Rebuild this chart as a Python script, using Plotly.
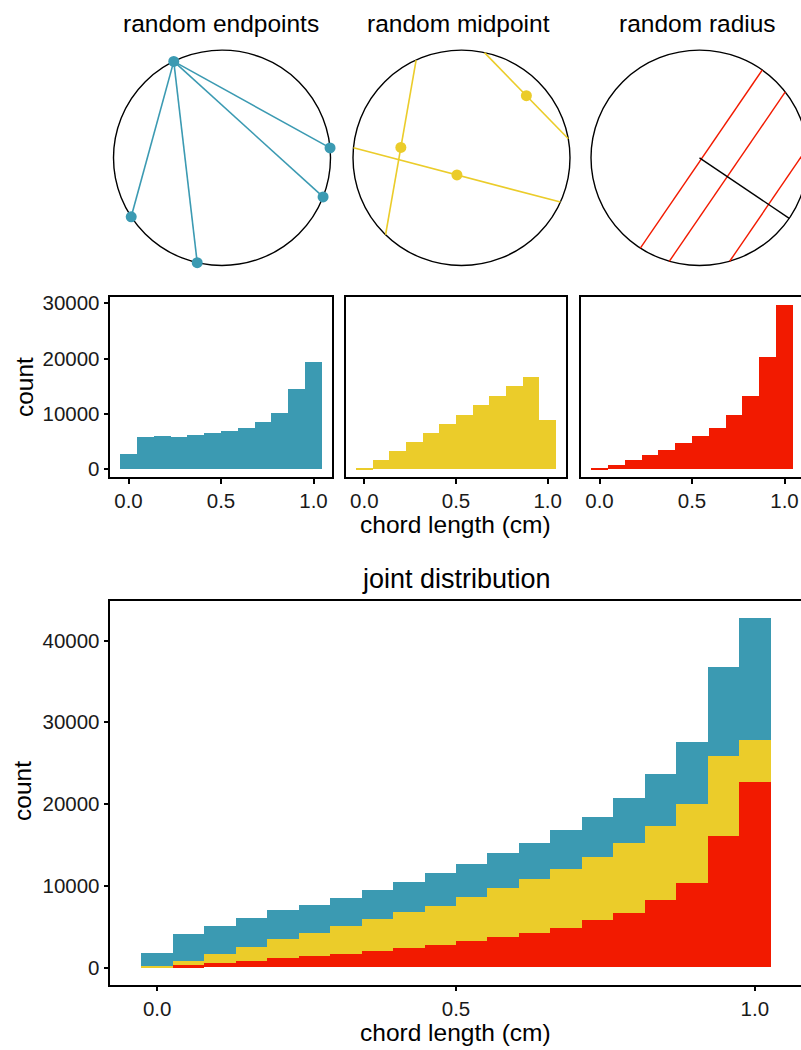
import math
import plotly.graph_objects as go

# ---------------- data ----------------
BLUE = "#3B9AB2"
YELLOW = "#EBCC2A"
RED = "#F21A00"

# top row histograms (12 bins)
hist_centers = [0.0, 0.0909, 0.1818, 0.2727, 0.3636, 0.4545,
                0.5455, 0.6364, 0.7273, 0.8182, 0.9091, 1.0]
hist_binwidth = 0.0909
endpoints_counts = [2870, 5870, 6050, 5850, 6280, 6640, 7000, 7540, 8620, 10230, 14540, 19340]
midpoint_counts = [300, 1620, 3350, 4970, 6640, 8260, 9870, 11670, 13290, 15030, 16640, 8980]
radius_counts = [150, 840, 1740, 2640, 3540, 4850, 6050, 7480, 9870, 13290, 20410, 29700]

# joint distribution (20 bins, stacked)
joint_centers = [0.0, 0.0526, 0.1053, 0.1579, 0.2105, 0.2632, 0.3158, 0.3684, 0.4211, 0.4737,
                 0.5263, 0.5789, 0.6316, 0.6842, 0.7368, 0.7895, 0.8421, 0.8947, 0.9474, 1.0]
joint_binwidth = 0.0526
joint_red = [0, 200, 490, 730, 1090, 1340, 1580, 1940, 2310, 2670,
             3160, 3650, 4130, 4740, 5710, 6680, 8260, 10330, 16040, 22600]
joint_yellow = [150, 530, 1090, 1700, 2310, 2790, 3400, 3890, 4490, 4860,
                5470, 6070, 6680, 7290, 7780, 8510, 8990, 9600, 9840, 5230]
joint_blue = [1550, 3280, 3400, 3520, 3530, 3520, 3520, 3650, 3650, 4010,
              4010, 4250, 4380, 4740, 4860, 5470, 6320, 7650, 10820, 14820]

x_tickvals = [0, 0.5, 1.0]
x_ticktext = ["0.0", "0.5", "1.0"]
top_y_ticks = [0, 10000, 20000, 30000]
top_y_text = ["0", "10000", "20000", "30000"]
joint_y_ticks = [0, 10000, 20000, 30000, 40000]
joint_y_text = ["0", "10000", "20000", "30000", "40000"]

# circle illustrations (unit circle)
endpoint_anchor_deg = 116.4
endpoint_other_deg = [5.3, -21.3, 213.2, 256.8]
midpoints_x = [-0.559, -0.042, 0.598]
midpoints_y = [0.097, -0.159, 0.577]
radius_angle_deg = -34.2
radius_dists = [0.02, 0.31, 0.77]

titles = ["random endpoints", "random midpoint", "random radius"]

# ---------------- layout helpers (pixel based) ----------------
W, H = 801, 1050
FONT = "Liberation Sans, Arial, Helvetica, sans-serif"
TXT = "#1a1a1a"


def px_x(a, b):
    return [max(0, a / W), min(1, b / W)]


def px_y(top, bottom):
    return [1 - bottom / H, 1 - top / H]


fig = go.Figure()

# ---------------- circles ----------------
R_PX = 108.5
CY = 154
circle_cx = [222, 461.5, 699.5]
pad = 115
for i, cx in enumerate(circle_cx):
    n = i + 1
    left, right = cx - pad, min(cx + pad, W)
    xr = [-(cx - left) / R_PX, (right - cx) / R_PX]
    yr = [-pad / R_PX, pad / R_PX]
    fig.update_layout(**{
        f"xaxis{n}": dict(domain=px_x(left, right), range=xr, visible=False, anchor=f"y{n}"),
        f"yaxis{n}": dict(domain=px_y(CY - pad, CY + pad), range=yr, visible=False, anchor=f"x{n}"),
    })
    fig.add_shape(type="circle", xref=f"x{n}", yref=f"y{n}", x0=-1, y0=-1, x1=1, y1=1,
                  line=dict(color="black", width=1.4), layer="below")

# random endpoints
ax0 = math.cos(math.radians(endpoint_anchor_deg))
ay0 = math.sin(math.radians(endpoint_anchor_deg))
for d in endpoint_other_deg:
    bx, by = math.cos(math.radians(d)), math.sin(math.radians(d))
    fig.add_trace(go.Scatter(x=[ax0, bx], y=[ay0, by], mode="lines",
                             line=dict(color=BLUE, width=1.6), xaxis="x1", yaxis="y1",
                             showlegend=False, hoverinfo="skip"))
pts_x = [ax0] + [math.cos(math.radians(d)) for d in endpoint_other_deg]
pts_y = [ay0] + [math.sin(math.radians(d)) for d in endpoint_other_deg]
fig.add_trace(go.Scatter(x=pts_x, y=pts_y, mode="markers", marker=dict(color=BLUE, size=11),
                         xaxis="x1", yaxis="y1", showlegend=False, cliponaxis=False))

# random midpoint
for mx, my in zip(midpoints_x, midpoints_y):
    r = math.hypot(mx, my)
    ux, uy = -my / r, mx / r
    half = math.sqrt(1 - r * r)
    fig.add_trace(go.Scatter(x=[mx - ux * half, mx + ux * half], y=[my - uy * half, my + uy * half],
                             mode="lines", line=dict(color=YELLOW, width=1.6),
                             xaxis="x2", yaxis="y2", showlegend=False, hoverinfo="skip"))
fig.add_trace(go.Scatter(x=midpoints_x, y=midpoints_y, mode="markers",
                         marker=dict(color=YELLOW, size=11), xaxis="x2", yaxis="y2",
                         showlegend=False))

# random radius
rx, ry = math.cos(math.radians(radius_angle_deg)), math.sin(math.radians(radius_angle_deg))
for d in radius_dists:
    half = math.sqrt(1 - d * d)
    px_, py_ = rx * d, ry * d
    ux, uy = -ry, rx
    fig.add_trace(go.Scatter(x=[px_ - ux * half, px_ + ux * half], y=[py_ - uy * half, py_ + uy * half],
                             mode="lines", line=dict(color=RED, width=1.4),
                             xaxis="x3", yaxis="y3", showlegend=False, hoverinfo="skip"))
fig.add_trace(go.Scatter(x=[0, rx], y=[0, ry], mode="lines", line=dict(color="black", width=1.4),
                         xaxis="x3", yaxis="y3", showlegend=False, hoverinfo="skip"))

# ---------------- top histograms ----------------
TOP_T, TOP_B = 294, 476
panels = [(110, 332), (346, 566), (581, 803)]
top_max = max(max(endpoints_counts), max(midpoint_counts), max(radius_counts))
top_yr = [-0.05 * top_max, 1.05 * top_max]
hist_sets = [(endpoints_counts, BLUE), (midpoint_counts, YELLOW), (radius_counts, RED)]

axis_line = dict(showline=True, linecolor="black", linewidth=1.8, showgrid=False, zeroline=False)
tickfont = dict(family=FONT, size=20.5, color=TXT)
TL = 4.5

for i, ((l, r), (counts, col)) in enumerate(zip(panels, hist_sets)):
    n = i + 4
    full = 1.2
    rr = min(r, W)
    xr = [-0.1, -0.1 + full * (rr - l) / (r - l)]
    fig.update_layout(**{
        f"xaxis{n}": dict(domain=px_x(l, rr), range=xr, anchor=f"y{n}", mirror=True,
                          tickvals=x_tickvals, ticktext=x_ticktext, ticks="outside",
                          ticklen=TL, tickwidth=1.5, tickcolor="black", tickfont=tickfont,
                          **axis_line),
        f"yaxis{n}": dict(domain=px_y(TOP_T, TOP_B), range=top_yr, anchor=f"x{n}",
                          mirror=(i < 2), tickvals=top_y_ticks if i == 0 else [],
                          ticktext=top_y_text if i == 0 else [],
                          ticks="outside" if i == 0 else "", ticklen=TL, tickwidth=1.5,
                          tickcolor="black", showticklabels=(i == 0), tickfont=tickfont,
                          **axis_line),
    })
    fig.add_trace(go.Bar(x=hist_centers, y=counts, width=hist_binwidth,
                         marker=dict(color=col, line=dict(width=0)),
                         xaxis=f"x{n}", yaxis=f"y{n}", showlegend=False))

# ---------------- joint distribution ----------------
J_L, J_R, J_T, J_B = 110, 802, 601, 987.5
joint_tot = [a + b + c for a, b, c in zip(joint_red, joint_yellow, joint_blue)]
jmax = max(joint_tot)
j_full = 1.0526 * 1.1
j_xr = [-0.0263 - 0.05 * 1.0526, -0.0263 - 0.05 * 1.0526 + j_full * (W - J_L) / (J_R - J_L)]
fig.update_layout(
    xaxis7=dict(domain=px_x(J_L, W), range=j_xr, anchor="y7", mirror=True,
                tickvals=x_tickvals, ticktext=x_ticktext, ticks="outside", ticklen=TL,
                tickwidth=1.5, tickcolor="black", tickfont=tickfont, **axis_line),
    yaxis7=dict(domain=px_y(J_T, J_B), range=[-0.05 * jmax, 1.05 * jmax], anchor="x7",
                mirror=False, tickvals=joint_y_ticks, ticktext=joint_y_text, ticks="outside",
                ticklen=TL, tickwidth=1.5, tickcolor="black", tickfont=tickfont, **axis_line),
)
for vals, col in [(joint_red, RED), (joint_yellow, YELLOW), (joint_blue, BLUE)]:
    fig.add_trace(go.Bar(x=joint_centers, y=vals, width=joint_binwidth,
                         marker=dict(color=col, line=dict(width=0)),
                         xaxis="x7", yaxis="y7", showlegend=False))

# ---------------- text ----------------
ann = []


def add_text(text, x, y, size, angle=0):
    ann.append(dict(text=text, x=x / W, y=1 - y / H, xref="paper", yref="paper",
                    showarrow=False, xanchor="center", yanchor="middle", textangle=angle,
                    font=dict(family=FONT, size=size, color="black")))


title_x = [221, 459, 697]
for t, x in zip(titles, title_x):
    add_text(t, x, 19, 24.5)
add_text("joint distribution", 457, 578, 27)
add_text("count", 24, 385, 24.5, -90)
add_text("count", 23, 792, 24.5, -90)
add_text("chord length (cm)", 455, 523.5, 24.5)
add_text("chord length (cm)", 455, 1035, 24.5)

fig.update_layout(
    width=W, height=H, margin=dict(l=0, r=0, t=0, b=0),
    paper_bgcolor="white", plot_bgcolor="white",
    barmode="stack", bargap=0, showlegend=False,
    annotations=ann, font=dict(family=FONT),
)

fig.write_html("out.html")
